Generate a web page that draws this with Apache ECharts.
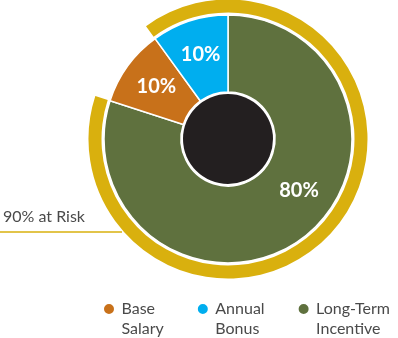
<!DOCTYPE html>
<html>
<head>
<meta charset="utf-8">
<script src="https://cdn.jsdelivr.net/npm/echarts@6/dist/echarts.min.js"></script>
<style>
html,body{margin:0;padding:0;background:#fff;}
#c{width:398px;height:338px;}
</style>
</head>
<body>
<div id="c"></div>
<script>
var categories = ['Base Salary', 'Annual Bonus', 'Long-Term Incentive'];
var legendLines = ['Base\nSalary', 'Annual\nBonus', 'Long-Term\nIncentive'];
var shares = [10, 10, 80];
var colors = ['#c8711a', '#00aeef', '#5f713e'];
var atRiskShare = 90;
var atRiskLabel = '90% at Risk';

var chart = echarts.init(document.getElementById('c'), null, {renderer: 'canvas'});
var font = 'Lato, "Noto Sans", sans-serif';
var center = [228, 139];

var pieData = categories.map(function (n, i) {
  return {name: n, value: shares[i], itemStyle: {color: colors[i]}};
});
// slices drawn clockwise from 12 o'clock: Long-Term, Base Salary, Annual Bonus
var ordered = [pieData[2], pieData[0], pieData[1]];

chart.setOption({
  animation: false,
  legend: {
    data: categories,
    left: 97,
    top: 274,
    icon: 'circle',
    itemWidth: 15,
    itemHeight: 12,
    itemGap: 32,
    selectedMode: false,
    // leading blank line keeps the icon level with the first text line
    formatter: function (name) { return '\n' + legendLines[categories.indexOf(name)]; },
    textStyle: {fontFamily: font, fontSize: 16, color: '#4a4a4a', lineHeight: 20}
  },
  series: [
    {
      type: 'pie',
      center: center,
      radius: [126.5, 139.5],
      startAngle: 126,
      clockwise: true,
      silent: true,
      label: {show: false},
      labelLine: {show: false},
      data: [
        {name: 'atRisk', value: atRiskShare, itemStyle: {color: '#d9b00e'}},
        {name: 'gap', value: 100 - atRiskShare, itemStyle: {color: 'rgba(0,0,0,0)'}}
      ]
    },
    {
      type: 'pie',
      center: center,
      radius: [47, 124],
      startAngle: 90,
      clockwise: true,
      silent: true,
      itemStyle: {borderColor: '#fff', borderWidth: 1.5},
      label: {
        show: true,
        position: 'inside',
        formatter: '{c}%',
        color: '#fff',
        fontFamily: font,
        fontWeight: 'bold',
        fontSize: 20
      },
      labelLine: {show: false},
      labelLayout: function (p) {
        if (p.dataIndex === 0) return {dx: 19, dy: -20};
        return {dx: 0, dy: 0};
      },
      data: ordered
    },
    {
      type: 'pie',
      center: center,
      radius: [0, 45],
      silent: true,
      label: {show: false},
      labelLine: {show: false},
      data: [{name: 'core', value: 1, itemStyle: {color: '#231f20'}}]
    }
  ],
  graphic: [
    {type: 'line', shape: {x1: 0, y1: 232, x2: 122, y2: 232}, style: {stroke: '#d9b00e', lineWidth: 1.5}, z: 10},
    {type: 'text', left: 3, top: 209, style: {text: atRiskLabel, fontFamily: font, fontSize: 16, fill: '#4a4a4a'}}
  ]
});
</script>
</body>
</html>
